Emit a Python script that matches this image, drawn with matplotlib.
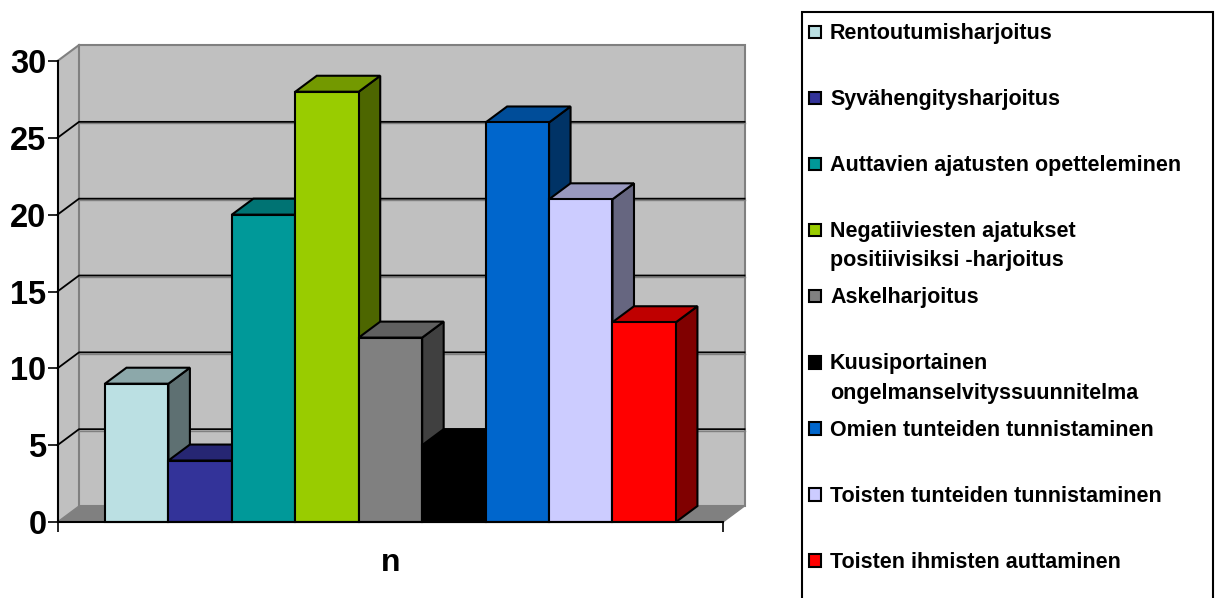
import matplotlib
matplotlib.use('Agg')
import matplotlib.pyplot as plt
from matplotlib.colors import to_rgb
from matplotlib.patches import Rectangle

labels = ['Rentoutumisharjoitus', 'Syvähengitysharjoitus', 'Auttavien ajatusten opetteleminen',
          'Negatiiviesten ajatukset\npositiivisiksi -harjoitus', 'Askelharjoitus',
          'Kuusiportainen\nongelmanselvityssuunnitelma', 'Omien tunteiden tunnistaminen',
          'Toisten tunteiden tunnistaminen', 'Toisten ihmisten auttaminen']
values = [9, 4, 20, 28, 12, 5, 26, 21, 13]
colors = ['#BBE0E3', '#333399', '#009999', '#99CC00', '#808080', '#000000', '#0066CC', '#CCCCFF', '#FF0000']
yticks = [0, 5, 10, 15, 20, 25, 30]

W, H = 1221, 598
plt.rcParams['font.family'] = ['Liberation Sans', 'DejaVu Sans']
plt.rcParams['font.weight'] = 'bold'


def shade(c, k):
    return tuple(v * k for v in to_rgb(c))


fig = plt.figure(figsize=(W / 100, H / 100), dpi=100)
ax = fig.add_axes([57.5 / W, (H - 522) / H, 665.5 / W, 461 / H])
x_left, x_right = -1.248, 9.242
ax.set_xlim(x_left, x_right)
ax.set_ylim(0, 30)
dx, dy = 0.339, 1.04  # depth of the 3d box in data units

# walls and floor
ax.fill([x_left, x_left + dx, x_left + dx, x_left], [0, dy, 30 + dy, 30], fc='#C0C0C0', ec='none', clip_on=False, zorder=1)
ax.fill([x_left + dx, x_right + dx, x_right + dx, x_left + dx], [dy, dy, 30 + dy, 30 + dy], fc='#C0C0C0', ec='#808080', lw=1.5, clip_on=False, zorder=1)
ax.fill([x_left, x_right, x_right + dx, x_left + dx], [0, 0, dy, dy], fc='#808080', ec='#808080', lw=1, clip_on=False, zorder=1.5)
ax.plot([x_left, x_left + dx], [30, 30 + dy], color='#808080', lw=1.5, clip_on=False, zorder=1.5)

# gridlines go along the side wall and the back wall
for t in yticks[1:-1]:
    ax.plot([x_left + dx, x_right + dx], [t + dy - 0.1] * 2, color='#808080', lw=1, clip_on=False, zorder=2)
    ax.plot([x_left, x_left + dx, x_right + dx], [t, t + dy, t + dy], color='black', lw=1.3, clip_on=False, zorder=2)

# bars left to right, each one covers the side of the previous
for i, v in enumerate(values):
    z = 3 + i
    c = colors[i]
    ax.fill([i + 0.5, i + 0.5 + dx, i + 0.5 + dx, i + 0.5], [0, dy, v + dy, v], fc=shade(c, 0.5), ec='black', lw=1.5, clip_on=False, zorder=z)
    ax.fill([i - 0.5, i + 0.5, i + 0.5 + dx, i - 0.5 + dx], [v, v, v + dy, v + dy], fc=shade(c, 0.75), ec='black', lw=1.5, clip_on=False, zorder=z)
    ax.bar(i, v, width=1, color=c, edgecolor='black', linewidth=1.5, clip_on=False, zorder=z + 0.5)

ax.patch.set_visible(False)
for s in ['top', 'right']:
    ax.spines[s].set_visible(False)
for s in ['left', 'bottom']:
    ax.spines[s].set_linewidth(1.5)
    ax.spines[s].set_zorder(20)
ax.set_yticks(yticks)
ax.set_xticks([x_left, x_right])
ax.set_xticklabels([])
ax.tick_params(axis='y', length=7, width=1.2, labelsize=23.5, pad=1)
ax.tick_params(axis='x', length=7, width=1.2)
ax.set_xlabel('n', fontsize=23, fontweight='bold', labelpad=8)

# legend box in pixel coordinates, first lines are evenly spaced
lg = fig.add_axes([0, 0, 1, 1])
lg.set_xlim(0, W)
lg.set_ylim(H, 0)
lg.axis('off')
lg.add_patch(Rectangle((802, 12), 411, 600, fc='white', ec='black', lw=1.5))
for i, lab in enumerate(labels):
    y = 32 + i * 66.1
    lg.add_patch(Rectangle((808.5, y - 6.5), 12.5, 12.5, fc=colors[i], ec='black', lw=1.5))
    lg.text(830, y - 9, lab, fontsize=15.5, fontweight='bold', va='top', ha='left', linespacing=1.5)

fig.savefig('out.png', dpi=100)
